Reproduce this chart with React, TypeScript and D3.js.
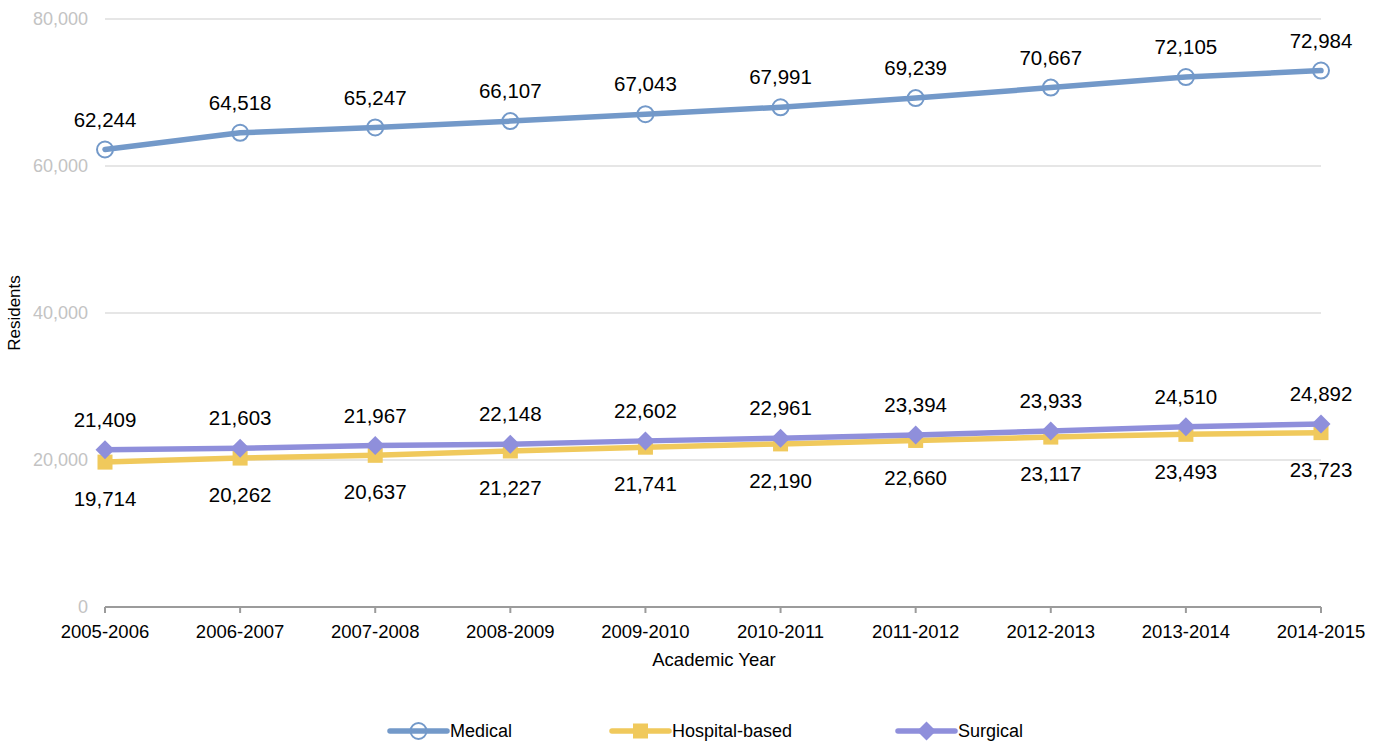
import React from "react";
import * as d3 from "d3";

const years = ["2005-2006","2006-2007","2007-2008","2008-2009","2009-2010","2010-2011","2011-2012","2012-2013","2013-2014","2014-2015"];
const medical = [62244,64518,65247,66107,67043,67991,69239,70667,72105,72984];
const hospital = [19714,20262,20637,21227,21741,22190,22660,23117,23493,23723];
const surgical = [21409,21603,21967,22148,22602,22961,23394,23933,24510,24892];
const yTicks = [0,20000,40000,60000,80000];
const seriesNames = ["Medical","Hospital-based","Surgical"];

const W = 1384, H = 742;
const FONT = "'Liberation Sans', Arial, Helvetica, sans-serif";
const COLORS = ["#7399c9", "#f0c95c", "#8f8fdb"];

function Marker({ kind, x, y, color }: { kind: number; x: number; y: number; color: string }) {
  if (kind === 0) return <circle cx={x} cy={y} r={8} fill="none" stroke={color} strokeWidth={2} />;
  if (kind === 1) return <rect x={x - 7.5} y={y - 7.5} width={15} height={15} fill={color} />;
  const s = 9.5;
  return <path d={`M${x},${y - s}L${x + s},${y}L${x},${y + s}L${x - s},${y}Z`} fill={color} />;
}

export default function App() {
  const x = d3.scalePoint<string>().domain(years).range([105, 1321]);
  const y = d3.scaleLinear().domain([0, 80000]).range([607, 19]);
  const fmt = d3.format(",");
  const line = d3.line<number>().x((_, i) => x(years[i])!).y((d) => y(d));
  const series = [medical, hospital, surgical];
  const labelOffset = [-30, 37, -30];
  const order = [0, 1, 2];
  const legendX = [390, 612, 898];
  const [x0, x1] = x.range();

  return (
    <svg width={W} height={H} style={{ position: "absolute", left: 0, top: 0, background: "#fff" }} fontFamily={FONT}>
      {yTicks.map((t) => (
        <g key={t}>
          {t > 0 && <line x1={x0} x2={x1} y1={y(t)} y2={y(t)} stroke="#e6e6e6" strokeWidth={2} />}
          <text x={88} y={y(t)} dy="0.35em" textAnchor="end" fontSize={18} fill="#c3c3c3">{fmt(t)}</text>
        </g>
      ))}
      <line x1={x0} x2={x1} y1={y(0)} y2={y(0)} stroke="#9b9b9b" strokeWidth={2} />
      {years.map((yr) => (
        <g key={yr}>
          <line x1={x(yr)} x2={x(yr)} y1={y(0)} y2={y(0) + 6} stroke="#9b9b9b" strokeWidth={2} />
          <text x={x(yr)} y={632} dy="0.35em" textAnchor="middle" fontSize={18.5} fill="#000">{yr}</text>
        </g>
      ))}
      <text x={714} y={660} dy="0.35em" textAnchor="middle" fontSize={18.5} fill="#000">Academic Year</text>
      <text transform={`translate(14,${(y(0) + y(80000)) / 2}) rotate(-90)`} dy="0.35em" textAnchor="middle" fontSize={17} fill="#000">Residents</text>

      {order.map((k) => (
        <g key={k}>
          <path d={line(series[k])!} fill="none" stroke={COLORS[k]} strokeWidth={5.5} strokeLinejoin="round" strokeLinecap="round" />
          {series[k].map((v, i) => (
            <Marker key={i} kind={k} x={x(years[i])!} y={y(v)} color={COLORS[k]} />
          ))}
        </g>
      ))}
      {order.map((k) =>
        series[k].map((v, i) => (
          <text key={`${k}-${i}`} x={x(years[i])!} y={y(v) + labelOffset[k]} dy="0.35em" textAnchor="middle" fontSize={20.5} fill="#000">
            {fmt(v)}
          </text>
        ))
      )}

      {seriesNames.map((n, k) => (
        <g key={n}>
          <line x1={legendX[k]} x2={legendX[k] + 57} y1={731} y2={731} stroke={COLORS[k]} strokeWidth={5.5} strokeLinecap="round" />
          <Marker kind={k} x={legendX[k] + 28.5} y={731} color={COLORS[k]} />
          <text x={legendX[k] + 60} y={731} dy="0.35em" fontSize={18} fill="#000">{n}</text>
        </g>
      ))}
    </svg>
  );
}
